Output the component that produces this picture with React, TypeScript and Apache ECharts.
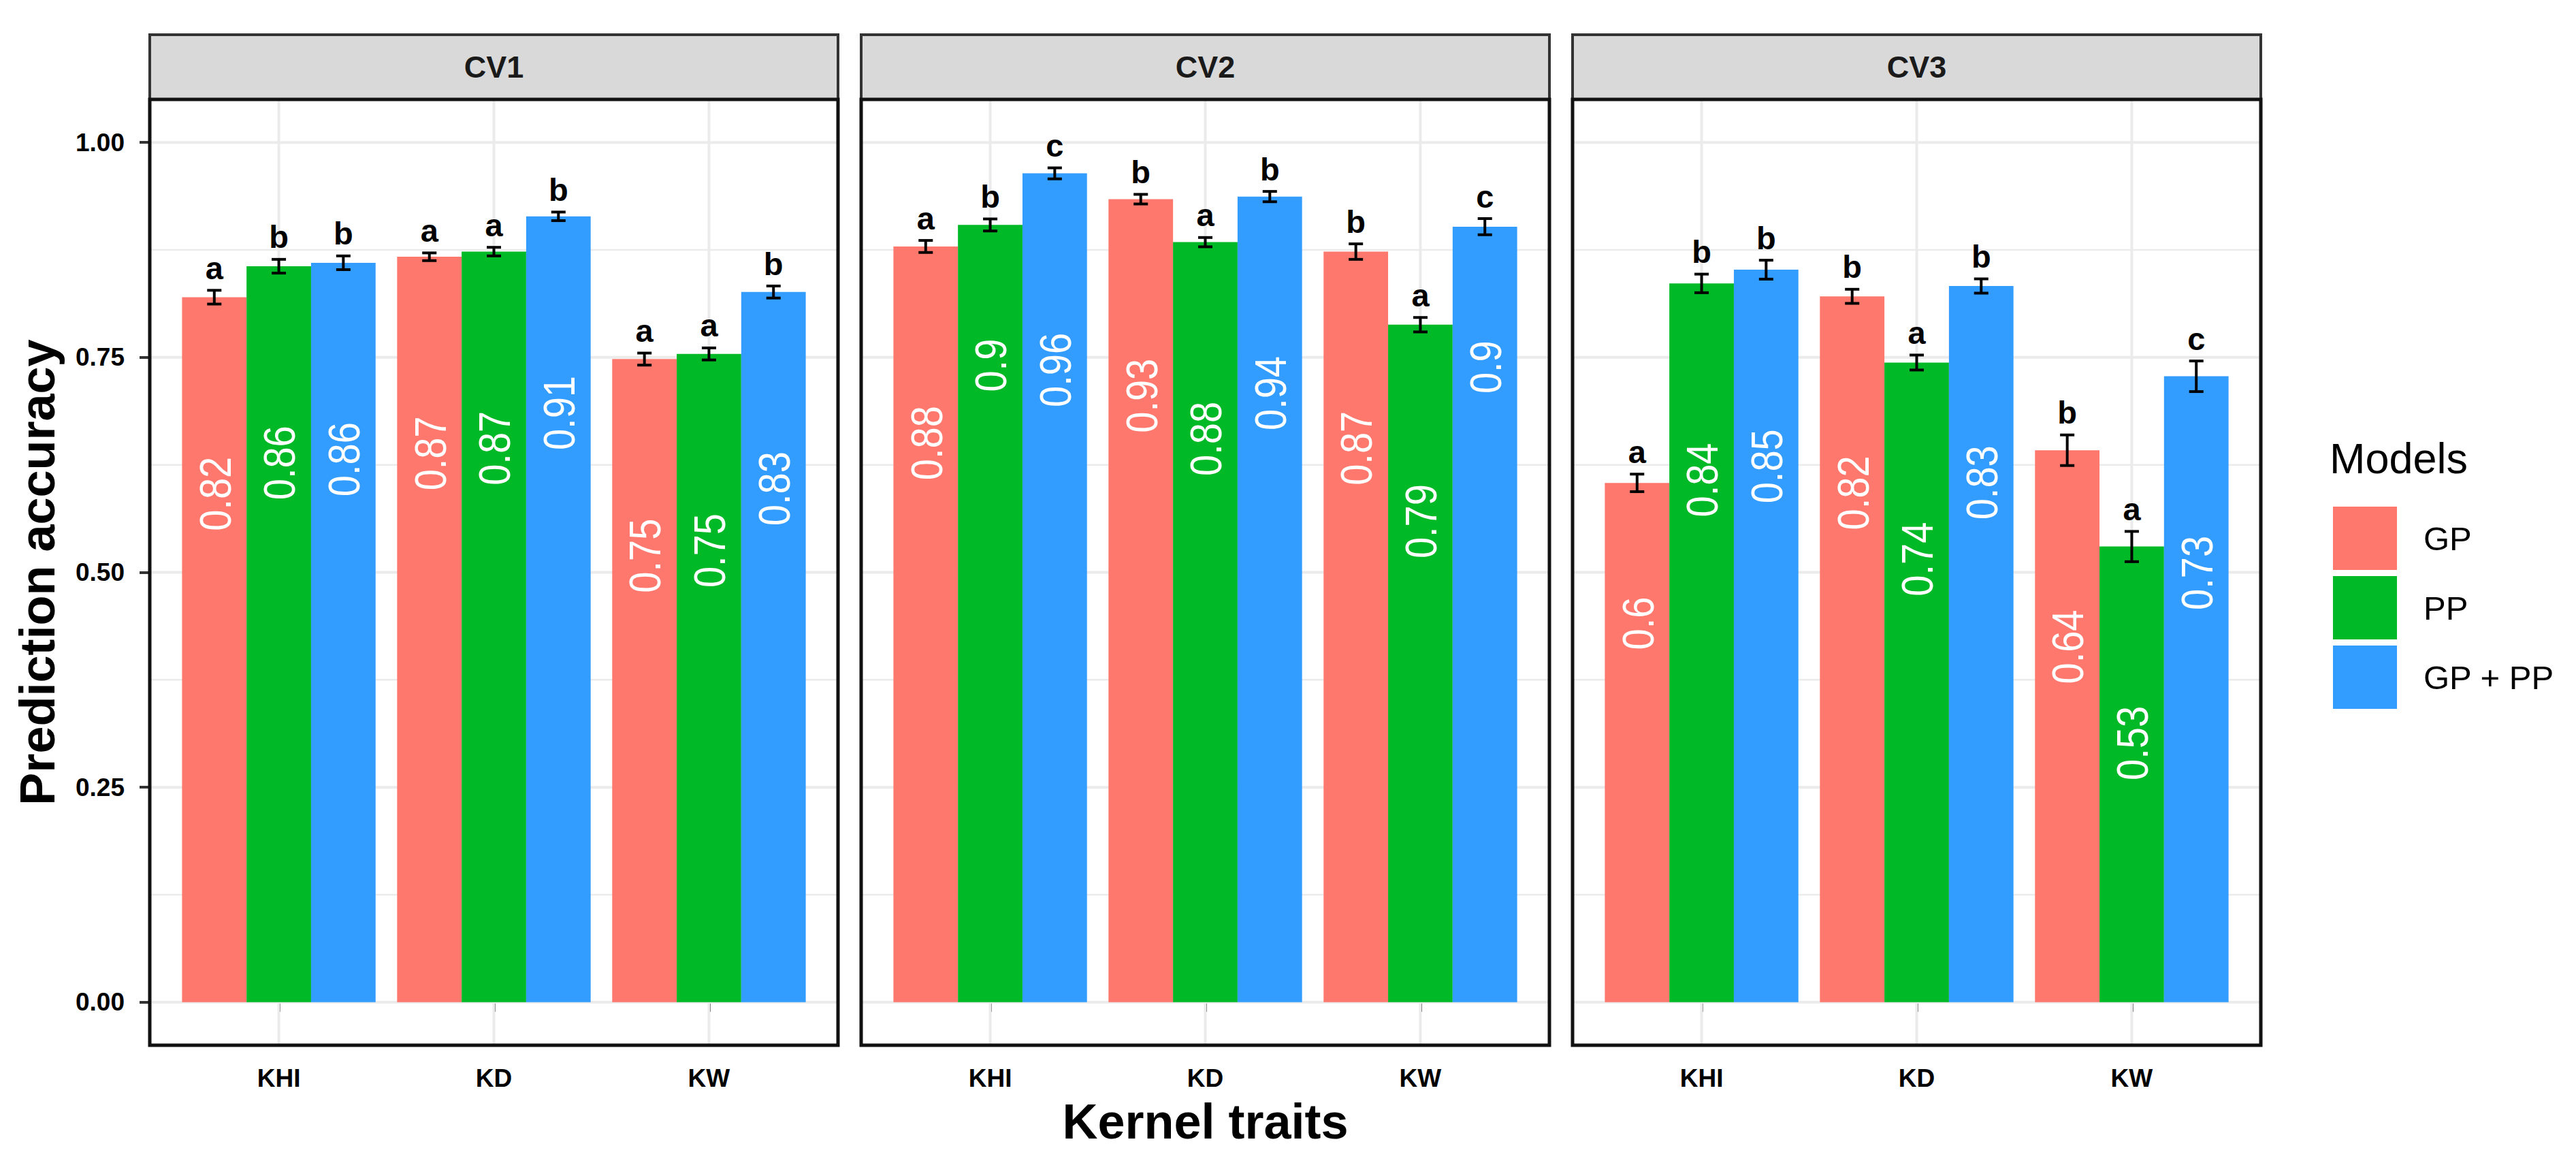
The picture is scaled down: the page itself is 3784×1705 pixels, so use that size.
import React, { useEffect, useRef } from "react";
import * as echarts from "echarts";

// ---------- data ----------
const panels = ["CV1", "CV2", "CV3"];
const traits = ["KHI", "KD", "KW"];
const models = ["GP", "PP", "GP + PP"];
const modelColors = ["#FF786E", "#00B926", "#329DFF"];

// prediction accuracy, in trait order KHI, KD, KW
const cv1GP = [0.82, 0.867, 0.748];
const cv1PP = [0.856, 0.873, 0.754];
const cv1GPPP = [0.86, 0.914, 0.826];
const cv2GP = [0.879, 0.934, 0.873];
const cv2PP = [0.904, 0.884, 0.788];
const cv2GPPP = [0.964, 0.937, 0.902];
const cv3GP = [0.604, 0.821, 0.642];
const cv3PP = [0.836, 0.744, 0.53];
const cv3GPPP = [0.852, 0.833, 0.728];

// standard errors
const cv1GPse = [0.008, 0.0045, 0.007];
const cv1PPse = [0.008, 0.005, 0.007];
const cv1GPPPse = [0.008, 0.005, 0.007];
const cv2GPse = [0.007, 0.0056, 0.009];
const cv2PPse = [0.007, 0.0054, 0.0084];
const cv2GPPPse = [0.0064, 0.006, 0.0094];
const cv3GPse = [0.0102, 0.0082, 0.0178];
const cv3PPse = [0.0108, 0.0087, 0.0176];
const cv3GPPPse = [0.011, 0.0083, 0.0178];

// significance letters
const cv1GPlet = ["a", "a", "a"];
const cv1PPlet = ["b", "a", "a"];
const cv1GPPPlet = ["b", "b", "b"];
const cv2GPlet = ["a", "b", "b"];
const cv2PPlet = ["b", "a", "a"];
const cv2GPPPlet = ["c", "b", "c"];
const cv3GPlet = ["a", "b", "b"];
const cv3PPlet = ["b", "a", "a"];
const cv3GPPPlet = ["b", "b", "c"];

const yMajor = [0, 0.25, 0.5, 0.75, 1];
const yMinor = [0.125, 0.375, 0.625, 0.875];
const xPositions = [1, 2, 3];

const accuracy = [
  [cv1GP, cv1PP, cv1GPPP],
  [cv2GP, cv2PP, cv2GPPP],
  [cv3GP, cv3PP, cv3GPPP],
];
const errors = [
  [cv1GPse, cv1PPse, cv1GPPPse],
  [cv2GPse, cv2PPse, cv2GPPPse],
  [cv3GPse, cv3PPse, cv3GPPPse],
];
const letters = [
  [cv1GPlet, cv1PPlet, cv1GPPPlet],
  [cv2GPlet, cv2PPlet, cv2GPPPlet],
  [cv3GPlet, cv3PPlet, cv3GPPPlet],
];

// ---------- layout / style ----------
const FONT = "'Liberation Sans', Arial, Helvetica, sans-serif";
const panelLeft = [220, 1265, 2310];
const panelWidth = 1011;
const panelTop = 146;
const panelHeight = 1389;
const stripTop = 51;
const stripHeight = 95;
const dodge = 0.3;
const barHalf = 0.15;
const capHalf = 0.0333;

function labelWidth(s: string, size: number) {
  let u = 0;
  for (const ch of s) u += ch === "." ? 0.278 : 0.556;
  return u * size;
}

function buildOption() {
  const grid = panels.map((_, i) => ({
    left: panelLeft[i],
    top: panelTop,
    width: panelWidth,
    height: panelHeight,
    show: false,
  }));

  const xAxis = panels.map((_, i) => ({
    gridIndex: i,
    type: "value",
    min: 0.4,
    max: 3.6,
    splitLine: { show: false },
    axisLine: { show: false },
    axisTick: {
      show: true,
      customValues: xPositions,
      length: 14,
      lineStyle: { color: "#333333", width: 4 },
    },
    axisLabel: {
      show: true,
      customValues: xPositions,
      formatter: (v: number) => traits[Math.round(v) - 1] ?? "",
      fontSize: 37,
      fontWeight: "bold",
      color: "#000",
      fontFamily: FONT,
      margin: 30,
    },
    name: i === 1 ? "Kernel traits" : "",
    nameLocation: "middle",
    nameGap: 76,
    nameTextStyle: { fontSize: 72, fontWeight: "bold", color: "#000", fontFamily: FONT },
  }));

  const yAxis = panels.map((_, i) => ({
    gridIndex: i,
    type: "value",
    min: -0.05,
    max: 1.05,
    splitLine: { show: false },
    axisLine: { show: false },
    axisTick: {
      show: i === 0,
      customValues: yMajor,
      length: 15,
      lineStyle: { color: "#333333", width: 4 },
    },
    axisLabel: {
      show: i === 0,
      customValues: yMajor,
      formatter: (v: number) => v.toFixed(2),
      fontSize: 37,
      fontWeight: "bold",
      color: "#000",
      fontFamily: FONT,
      margin: 37,
    },
    name: i === 0 ? "Prediction accuracy" : "",
    nameLocation: "middle",
    nameRotate: 90,
    nameGap: 129,
    nameTextStyle: { fontSize: 72, fontWeight: "bold", color: "#000", fontFamily: FONT },
  }));

  const series: any[] = [];

  panels.forEach((_, i) => {
    const gridData = [
      ...yMajor.map((v) => [v, 0]),
      ...yMinor.map((v) => [v, 1]),
      ...xPositions.map((v) => [v, 2]),
    ];
    series.push({
      type: "custom",
      name: "grid-" + i,
      xAxisIndex: i,
      yAxisIndex: i,
      silent: true,
      z: 1,
      data: gridData,
      encode: { x: 0, y: 1 },
      renderItem: (params: any, api: any) => {
        const pos = api.value(0);
        const kind = api.value(1);
        const cs = params.coordSys;
        if (kind === 2) {
          const x = api.coord([pos, 0])[0];
          return {
            type: "line",
            shape: { x1: x, y1: cs.y, x2: x, y2: cs.y + cs.height },
            style: { stroke: "#EBEBEB", lineWidth: 4 },
          };
        }
        const y = api.coord([1, pos])[1];
        return {
          type: "line",
          shape: { x1: cs.x, y1: y, x2: cs.x + cs.width, y2: y },
          style: { stroke: "#EBEBEB", lineWidth: kind === 0 ? 4 : 2.5 },
        };
      },
    });

    models.forEach((model, m) => {
      const color = modelColors[m];
      series.push({
        type: "custom",
        name: model,
        xAxisIndex: i,
        yAxisIndex: i,
        silent: true,
        z: 2,
        itemStyle: { color },
        data: traits.map((_, t) => [xPositions[t], accuracy[i][m][t], errors[i][m][t]]),
        encode: { x: 0, y: 1 },
        renderItem: (params: any, api: any) => {
          const t = params.dataIndex;
          const c = api.value(0) + (m - 1) * dodge;
          const v = api.value(1);
          const e = api.value(2);
          const tl = api.coord([c - barHalf, v]);
          const br = api.coord([c + barHalf, 0]);
          const top = api.coord([c, v + e]);
          const bot = api.coord([c, v - e]);
          const cl = api.coord([c - capHalf, v])[0];
          const cr = api.coord([c + capHalf, v])[0];
          const label = String(Number(v.toFixed(2)));
          const w = labelWidth(label, 56);
          const cx = (tl[0] + br[0]) / 2;
          const lineStyle = { stroke: "#000", lineWidth: 4 };
          return {
            type: "group",
            children: [
              {
                type: "rect",
                shape: { x: tl[0], y: tl[1], width: br[0] - tl[0], height: br[1] - tl[1] },
                style: { fill: color },
              },
              { type: "line", shape: { x1: top[0], y1: top[1], x2: bot[0], y2: bot[1] }, style: lineStyle },
              { type: "line", shape: { x1: cl, y1: top[1], x2: cr, y2: top[1] }, style: lineStyle },
              { type: "line", shape: { x1: cl, y1: bot[1], x2: cr, y2: bot[1] }, style: lineStyle },
              {
                type: "text",
                x: top[0],
                y: top[1] - 33,
                style: {
                  text: letters[i][m][t],
                  fill: "#000",
                  fontSize: 47,
                  fontWeight: "bold",
                  fontFamily: FONT,
                  align: "center",
                  verticalAlign: "middle",
                },
              },
              {
                type: "text",
                x: cx + 2,
                y: tl[1] + 2.15 * w,
                rotation: Math.PI / 2,
                scaleX: 0.875,
                style: {
                  text: label,
                  fill: "#FFFFFF",
                  fontSize: 64,
                  fontFamily: FONT,
                  align: "right",
                  verticalAlign: "middle",
                },
              },
            ],
          };
        },
      });
    });
  });

  const graphic: any[] = [];
  panels.forEach((p, i) => {
    graphic.push({
      type: "rect",
      z: 50,
      shape: { x: panelLeft[i], y: stripTop, width: panelWidth, height: stripHeight },
      style: { fill: "#D9D9D9", stroke: "#333333", lineWidth: 4 },
    });
    graphic.push({
      type: "text",
      z: 51,
      x: panelLeft[i] + panelWidth / 2,
      y: stripTop + stripHeight / 2,
      style: {
        text: p,
        fill: "#1A1A1A",
        font: `bold 45px ${FONT}`,
        textAlign: "center",
        textVerticalAlign: "middle",
        align: "center",
        verticalAlign: "middle",
      },
    });
    graphic.push({
      type: "rect",
      z: 100,
      silent: true,
      shape: { x: panelLeft[i], y: panelTop, width: panelWidth, height: panelHeight },
      style: { fill: "none", stroke: "#111111", lineWidth: 5 },
    });
  });
  graphic.push({
    type: "text",
    z: 51,
    x: 3422,
    y: 673,
    style: {
      text: "Models",
      fill: "#000",
      font: `63px ${FONT}`,
      textAlign: "left",
      textVerticalAlign: "middle",
      align: "left",
      verticalAlign: "middle",
    },
  });

  return {
    animation: false,
    backgroundColor: "#FFFFFF",
    textStyle: { fontFamily: FONT },
    grid,
    xAxis,
    yAxis,
    legend: {
      data: models,
      orient: "vertical",
      left: 3422,
      top: 739,
      itemWidth: 94,
      itemHeight: 93,
      itemGap: 9,
      icon: "rect",
      selectedMode: false,
      textStyle: { fontSize: 49, color: "#000", fontFamily: FONT, padding: [0, 0, 0, 34] },
    },
    graphic,
    series,
  };
}

export default function App() {
  const ref = useRef<HTMLDivElement>(null);
  useEffect(() => {
    if (!ref.current) return;
    const chart = echarts.init(ref.current, undefined, { renderer: "svg" });
    chart.setOption(buildOption() as any);
    return () => chart.dispose();
  }, []);
  return (
    <div
      ref={ref}
      style={{ position: "absolute", left: 0, top: 0, width: 3784, height: 1705, background: "#fff" }}
    />
  );
}
